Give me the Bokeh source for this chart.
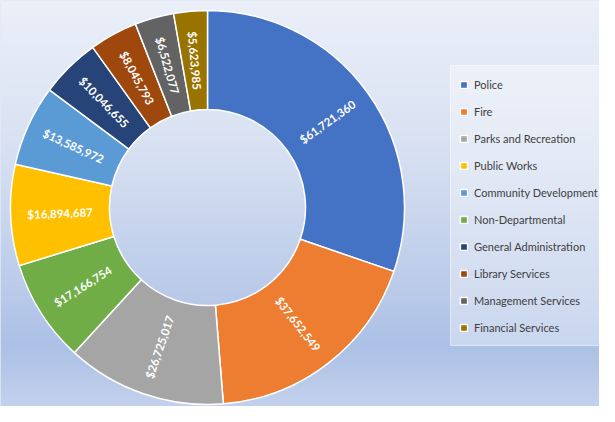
import numpy as np
import pandas as pd
from bokeh.plotting import figure
from bokeh.models import ColumnDataSource, Range1d, Legend, LegendItem
from bokeh.core.properties import value
from bokeh.embed import file_html
from bokeh.resources import INLINE

# ---- data (slice order, clockwise from 12 o'clock) ----
departments = ["Police", "Fire", "Parks and Recreation", "Non-Departmental",
               "Public Works", "Community Development", "General Administration",
               "Library Services", "Management Services", "Financial Services"]
budgets = [61721360, 37652549, 26725017, 17166754, 16894687,
           13585972, 10046655, 8045793, 6522077, 5623985]
colors = ["#4472C4", "#ED7D31", "#A5A5A5", "#70AD47", "#FFC000",
          "#5B9BD5", "#264478", "#9E480E", "#636363", "#997300"]
legend_order = ["Police", "Fire", "Parks and Recreation", "Public Works",
                "Community Development", "Non-Departmental", "General Administration",
                "Library Services", "Management Services", "Financial Services"]

W, H = 599, 406
CX, CY = 207, H - 207
R_OUT, R_IN = 197, 98

df = pd.DataFrame({"dept": departments, "value": budgets, "color": colors})
frac = df["value"] / df["value"].sum()
cum_end = frac.cumsum()
cum_start = cum_end - frac
df["start"] = np.pi / 2 - 2 * np.pi * cum_start
df["end"] = np.pi / 2 - 2 * np.pi * cum_end
mid = (df["start"] + df["end"]) / 2
r_mid = (R_OUT + R_IN) / 2
df["lx"] = CX + r_mid * np.cos(mid)
df["ly"] = CY + r_mid * np.sin(mid)
df["tangle"] = np.where(np.cos(mid) >= 0, mid, mid + np.pi)
df["label"] = [f"${v:,}" for v in df["value"]]
src = ColumnDataSource(df)

p = figure(width=W, height=H, output_backend="svg", toolbar_location=None,
           x_range=Range1d(0, W), y_range=Range1d(0, H), min_border=0)
p.axis.visible = False
p.grid.visible = False
p.outline_line_color = None
p.background_fill_color = "#c8d5ee"
p.border_fill_color = "#ffffff"

# background gradient (screen y from top -> colour)
stops_y = [0, 150, 300, 345, 412]
stops_c = [(235, 240, 249), (216, 225, 242), (184, 201, 233), (172, 193, 230), (198, 211, 236)]
rows = np.arange(H)
screen_y = H - rows - 0.5
img = np.empty((H, W), dtype=np.uint32)
view = img.view(dtype=np.uint8).reshape((H, W, 4))
for k in range(3):
    ch = np.interp(screen_y, stops_y, [c[k] for c in stops_c])
    view[:, :, k] = ch.astype(np.uint8)[:, None]
view[:, :, 3] = 255
p.image_rgba(image=[img], x=0, y=0, dw=W, dh=H)

r = p.annular_wedge(x=CX, y=CY, inner_radius=R_IN, outer_radius=R_OUT,
                    start_angle="start", end_angle="end", direction="clock",
                    fill_color="color", line_color="white", line_width=1.5,
                    source=src)

p.text(x="lx", y="ly", text="label", angle="tangle", source=src,
       text_font=value("Lato"), text_font_style="bold", text_font_size="11.5px",
       text_color="white", text_align="center", text_baseline="middle")

items = [LegendItem(label=name, renderers=[r], index=departments.index(name))
         for name in legend_order]
legend = Legend(items=items, location=(450, 60), orientation="vertical",
                glyph_width=9, glyph_height=9, label_height=20, spacing=7,
                padding=8, label_standoff=6, margin=0,
                label_text_font="Lato", label_text_font_size="11px",
                label_text_color="#404040",
                background_fill_color="#ffffff", background_fill_alpha=0.35,
                border_line_color="#ffffff", border_line_alpha=0.4)
p.add_layout(legend)

open("out.html", "w").write(file_html(p, INLINE))
